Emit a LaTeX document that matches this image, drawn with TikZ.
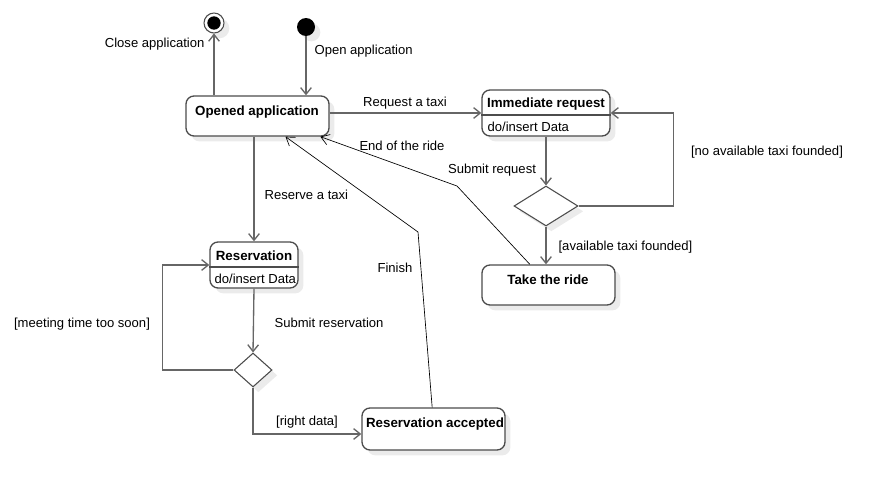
\documentclass[tikz,border=0pt]{standalone}
\usepackage{fontspec}
\setmainfont{Liberation Sans}
\usetikzlibrary{arrows.meta,shapes.geometric,shadows}
\tikzset{
  boxshadow/.style={drop shadow={shadow xshift=4pt, shadow yshift=-4pt, fill=black!8, opacity=1}},
  statebox/.style={rectangle, rounded corners=6pt, draw=black!70, line width=1pt, fill=white, inner sep=0pt, boxshadow},
  decision/.style={diamond, draw=black!70, line width=0.8pt, fill=white, inner sep=0pt, boxshadow},
  trans/.style={draw=black!60, line width=1pt, -{Straight Barb[length=5pt,width=8pt]}},
  thintrans/.style={draw=black, line width=0.5pt, -{Straight Barb[length=6pt,width=8pt]}},
  txt/.style={font=\fontsize{9.8}{11}\selectfont, inner sep=1pt, yshift=-1.5pt},
  statetitle/.style={txt, font=\fontsize{10}{12}\selectfont\bfseries}
}
\newcommand{\taxistate}[4] {\node at (#1) (#2) [statebox, minimum width=#3, minimum height=#4] {};}
\newcommand{\taxidecision}[4] {\node at (#1) (#2) [decision, minimum width=#3, minimum height=#4] {};}
\newcommand{\taxitext}[4] {\node at (#1) (#2) [txt, anchor=#3] {#4};}
\newcommand{\taxititle}[3] {\node at (#1) (#2) [statetitle] {#3};}

\begin{document}
\begin{tikzpicture}[x=0.75pt, y=-0.75pt]
\useasboundingbox (0,0) rectangle (881,489);

% start and end
\node at (306,27) (init) [circle, fill=black, minimum size=13.5pt, inner sep=0pt, boxshadow] {};
\node at (214,23) (final) [circle, draw=black!70, line width=0.8pt, fill=white, minimum size=15pt, inner sep=0pt, boxshadow] {};
\node at (final) (finaldot) [circle, fill=black, minimum size=10pt, inner sep=0pt] {};

% states
\taxistate {257.5,116}{opened}{107.25pt}{30pt};
\taxistate {546,113}{immediate}{96pt}{34.5pt};
\taxistate {548.5,285}{ride}{99.75pt}{30pt};
\taxistate {254,265}{reservation}{66pt}{34.5pt};
\taxistate {433.5,429}{accepted}{107.25pt}{31.5pt};
\draw [draw=black!70, line width=0.8pt] (immediate.west |- 0,115) -- (immediate.east |- 0,115);
\draw [draw=black!70, line width=0.8pt] (reservation.west |- 0,267) -- (reservation.east |- 0,267);

\taxititle {257,110}{openedtitle}{Opened application};
\taxititle {546,102}{immediatetitle}{Immediate request};
\taxitext {486,125}{immediatedo}{west}{do/insert Data};
\taxititle {548,278}{ridetitle}{Take the ride};
\taxititle {254,254}{reservationtitle}{Reservation};
\taxitext {213,277}{reservationdo}{west}{do/insert Data};
\taxititle {435,422}{acceptedtitle}{Reservation accepted};

% decisions
\taxidecision {546,206}{taxichoice}{48pt}{30pt};
\taxidecision {253,370}{timechoice}{28.5pt}{25.5pt};

% transitions
\draw [trans] (init) -- (init |- opened.north);
\draw [trans] (opened.north -| final) -- (final.south);
\draw [trans] (opened.east |- immediate.west) -- (immediate.west);
\draw [trans] (immediate.south) -- (taxichoice.north);
\draw [trans] (taxichoice.east) -- ++(95,0) |- (immediate.east);
\draw [trans] (taxichoice.south) -- (taxichoice.south |- ride.north);
\draw [thintrans] ([xshift=-14pt]ride.north) -- (457,186) -- ([xshift=-7pt]opened.south east);
\draw [trans] (opened.south -| reservation.north) -- (reservation.north);
\draw [trans] (reservation.south) -- (timechoice.north);
\draw [trans] (timechoice.west) -- ++(-71,0) |- (reservation.west);
\draw [trans] (timechoice.south) |- ([yshift=-3.75pt]accepted.west);
\draw [thintrans] ([xshift=-1pt]accepted.north) -- (418,232) -- ([xshift=21pt]opened.south);

% labels
\taxitext {206,42}{closelabel}{east}{Close application};
\taxitext {313,49}{openlabel}{west}{Open application};
\taxitext {405,101}{requestlabel}{center}{Request a taxi};
\taxitext {402,144}{endlabel}{center}{End of the ride};
\taxitext {492,168}{submitlabel}{center}{Submit request};
\taxitext {767,150}{nolabel}{center}{[no available taxi founded]};
\taxitext {557,245}{availlabel}{west}{[available taxi founded]};
\taxitext {263,193}{reservelabel}{west}{Reserve a taxi};
\taxitext {395,266}{finishlabel}{center}{Finish};
\taxitext {273,321}{submitreslabel}{west}{Submit reservation};
\taxitext {82,322}{soonlabel}{center}{[meeting time too soon]};
\taxitext {307,420}{rightlabel}{center}{[right data]};

\end{tikzpicture}
\end{document}
